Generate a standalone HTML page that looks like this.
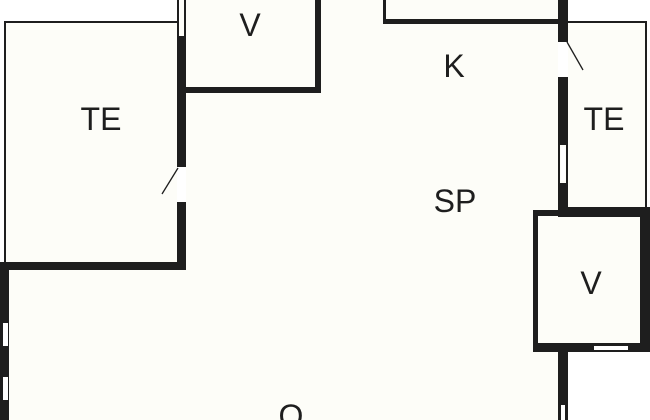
<!DOCTYPE html>
<html><head><style>html,body{margin:0;padding:0;background:#fff}svg{display:block}</style></head>
<body>
<svg width="650" height="420" viewBox="0 0 650 420" xmlns="http://www.w3.org/2000/svg">
<rect width="650" height="420" fill="#fff"/>
<g fill="#fdfdf8">
<rect x="5" y="22" width="178" height="245"/>
<rect x="180" y="0" width="388" height="420"/>
<rect x="0" y="264" width="568" height="156"/>
<rect x="566" y="22" width="80" height="192"/>
<rect x="535" y="210" width="110" height="140"/>
</g>
<g fill="#fff">
<rect x="177" y="167" width="9" height="35"/>
<rect x="558" y="42" width="10" height="35"/>
</g>
<g fill="#1e1e1e">
<rect x="4" y="21" width="2" height="246"/>
<rect x="4" y="21" width="174" height="2"/>
<rect x="0" y="262" width="186" height="8"/>
<rect x="177" y="36" width="9" height="131"/>
<rect x="177" y="202" width="9" height="66"/>
<rect x="177" y="0" width="2" height="36"/>
<rect x="184" y="0" width="2" height="36"/>
<rect x="184" y="87" width="137" height="6"/>
<rect x="315" y="0" width="6" height="93"/>
<rect x="383" y="0" width="3" height="24"/>
<rect x="383" y="19" width="185" height="5"/>
<rect x="558" y="0" width="10" height="42"/>
<rect x="558" y="77" width="10" height="68"/>
<rect x="558" y="183" width="10" height="30"/>
<rect x="558" y="145" width="2" height="38"/>
<rect x="566" y="145" width="2" height="38"/>
<rect x="566" y="21" width="81" height="2"/>
<rect x="645" y="21" width="2" height="190"/>
<rect x="558" y="207" width="92" height="10"/>
<rect x="533" y="210" width="27" height="6"/>
<rect x="533" y="210" width="5" height="141"/>
<rect x="640" y="207" width="10" height="145"/>
<rect x="533" y="343" width="117" height="9"/>
<rect x="558" y="343" width="10" height="77"/>
<rect x="0" y="262" width="9" height="158"/>
</g>
<g fill="#fff">
<rect x="594" y="346" width="34" height="4"/>
<rect x="561" y="405" width="4" height="15"/>
<rect x="3" y="323" width="5" height="23"/>
<rect x="3" y="377" width="5" height="23"/>
<rect x="561" y="147" width="4" height="34"/>
</g>
<g stroke="#1e1e1e" stroke-width="1.3">
<line x1="178" y1="168" x2="162" y2="194"/>
<line x1="567" y1="42" x2="583" y2="70"/>
</g>
<g font-family="Liberation Sans, sans-serif" font-size="32" fill="#1e1e1e" text-anchor="middle">
<text x="101" y="130">TE</text>
<text x="250" y="36">V</text>
<text x="454" y="77">K</text>
<text x="604" y="130">TE</text>
<text x="455" y="212">SP</text>
<text x="591" y="294">V</text>
<text x="291" y="427">O</text>
</g>
</svg>
</body></html>
